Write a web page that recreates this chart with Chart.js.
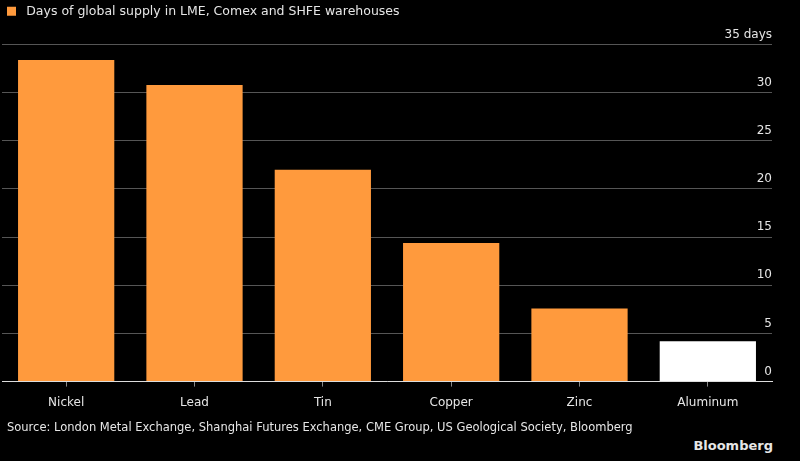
<!DOCTYPE html>
<html>
<head>
<meta charset="utf-8">
<script src="https://cdn.jsdelivr.net/npm/chart.js@4"></script>
<style>
  body { margin: 0; background: #000; width: 800px; height: 461px; overflow: hidden; font-family: "DejaVu Sans", sans-serif; }
  #wrap { position: absolute; left: 0; top: 0; width: 800px; height: 423px; }
  .source { position: absolute; left: 7px; top: 420px; color: #e6e6e6; font-size: 11.5px; }
  .brand { position: absolute; right: 27px; top: 438px; color: #e6e6e6; font-size: 13px; font-weight: bold; }
</style>
</head>
<body>
<div id="wrap"><canvas id="chart"></canvas></div>
<div class="source">Source: London Metal Exchange, Shanghai Futures Exchange, CME Group, US Geological Society, Bloomberg</div>
<div class="brand">Bloomberg</div>
<script>
const metals = ["Nickel", "Lead", "Tin", "Copper", "Zinc", "Aluminum"];
const daysOfSupply = [33.4, 30.8, 22.0, 14.4, 7.6, 4.2];
const barColors = ["#ff9a3d", "#ff9a3d", "#ff9a3d", "#ff9a3d", "#ff9a3d", "#ffffff"];
const yTicks = [0, 5, 10, 15, 20, 25, 30, 35];

// push the plot area down below the legend line
const legendGap = {
  id: "legendGap",
  beforeInit(chart) {
    const fit = chart.legend.fit;
    chart.legend.fit = function () {
      fit.bind(chart.legend)();
      this.height += 17;
    };
  }
};

new Chart(document.getElementById("chart"), {
  type: "bar",
  data: {
    labels: metals,
    datasets: [{
      label: "Days of global supply in LME, Comex and SHFE warehouses",
      data: daysOfSupply,
      backgroundColor: barColors,
      borderWidth: 0,
      barPercentage: 0.75,
      categoryPercentage: 1.0
    }]
  },
  plugins: [legendGap],
  options: {
    responsive: true,
    maintainAspectRatio: false,
    animation: false,
    layout: { padding: { left: 2, right: 28, top: 0, bottom: 4 } },
    plugins: {
      legend: {
        position: "top",
        align: "start",
        labels: {
          color: "#e6e6e6",
          font: { family: "DejaVu Sans", size: 12.5 },
          boxWidth: 9,
          boxHeight: 9,
          padding: 5,
          generateLabels: (chart) => [{
            text: " " + chart.data.datasets[0].label,
            fillStyle: "#ff9a3d",
            strokeStyle: "#ff9a3d",
            lineWidth: 0,
            fontColor: "#e6e6e6"
          }]
        },
        onClick: null
      },
      tooltip: { enabled: false }
    },
    scales: {
      x: {
        grid: {
          display: true,
          offset: false,
          drawOnChartArea: false,
          drawTicks: true,
          tickLength: 5,
          color: "#888"
        },
        border: { display: true, color: "#dddddd", width: 1 },
        ticks: { color: "#e6e6e6", font: { family: "DejaVu Sans", size: 12 }, padding: 9 }
      },
      y: {
        position: "right",
        min: 0,
        max: 35,
        afterBuildTicks: (axis) => { axis.ticks = yTicks.map(v => ({ value: v })); },
        grid: { color: "#555", drawTicks: false, lineWidth: 1 },
        border: { display: false },
        ticks: {
          mirror: true,
          padding: 0,
          labelOffset: -10,
          color: "#e6e6e6",
          font: { family: "DejaVu Sans", size: 12 },
          callback: (v) => v === 35 ? "35 days" : v
        }
      }
    }
  }
});
</script>
</body>
</html>
